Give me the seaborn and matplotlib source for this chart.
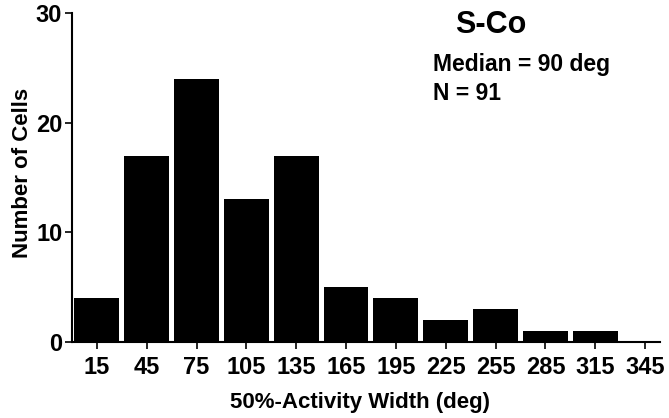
import matplotlib
matplotlib.use("Agg")
import matplotlib.pyplot as plt
import seaborn as sns
import numpy as np
import pandas as pd

bin_centers = [15, 45, 75, 105, 135, 165, 195, 225, 255, 285, 315, 345]
counts = [4, 17, 24, 13, 17, 5, 4, 2, 3, 1, 1, 0]
tick_labels = [str(c) for c in bin_centers]
title_text = "S-Co"
median_text = "Median = 90 deg"
n_text = "N = 91"

sns.set_theme(style="ticks")
plt.rcParams['font.family'] = ['Liberation Sans', 'DejaVu Sans']
plt.rcParams['font.weight'] = 'bold'
plt.rcParams['text.color'] = 'black'
plt.rcParams['axes.labelcolor'] = 'black'
plt.rcParams['xtick.color'] = 'black'
plt.rcParams['ytick.color'] = 'black'

df = pd.DataFrame({"width": bin_centers, "count": counts})

fig = plt.figure(figsize=(6.69, 4.18), dpi=100)
ax = fig.add_axes([72/669, 76/418, (660-72)/669, (342-13)/418])

sns.histplot(data=df, x="width", weights="count", binwidth=30, binrange=(0, 360),
             shrink=0.9, color="black", alpha=1, edgecolor="none", ax=ax)

ax.set_xlim(0, 354)
ax.set_ylim(0, 30)
ax.set_xticks(bin_centers)
ax.set_xticklabels(tick_labels, fontsize=17, fontweight='bold', color='black')
ax.set_yticks([0, 10, 20, 30])
ax.set_yticklabels(["0", "10", "20", "30"], fontsize=17, fontweight='bold', color='black')
ax.tick_params(axis='both', direction='out', length=5, width=1.2, colors='black')
ax.tick_params(axis='x', pad=5)
ax.tick_params(axis='y', pad=2)
for s in ['top', 'right']:
    ax.spines[s].set_visible(False)
for s in ['left', 'bottom']:
    ax.spines[s].set_linewidth(1.5)
    ax.spines[s].set_color('black')

ax.set_xlabel("50%-Activity Width (deg)", fontsize=16, fontweight='bold', color='black')
ax.set_ylabel("Number of Cells", fontsize=16, fontweight='bold', color='black')
ax.xaxis.set_label_coords(0.49, -0.152)
ax.yaxis.set_label_coords(-0.066, 0.514)

fig.text(491/669, 1 - 25/418, title_text, fontsize=22, fontweight='bold', ha='center', va='center', color='black')
fig.text(433/669, 1 - 71/418, median_text, fontsize=16.5, fontweight='bold', ha='left', va='baseline', color='black')
fig.text(433/669, 1 - 100/418, n_text, fontsize=16.5, fontweight='bold', ha='left', va='baseline', color='black')

fig.savefig("out.png", dpi=100)
